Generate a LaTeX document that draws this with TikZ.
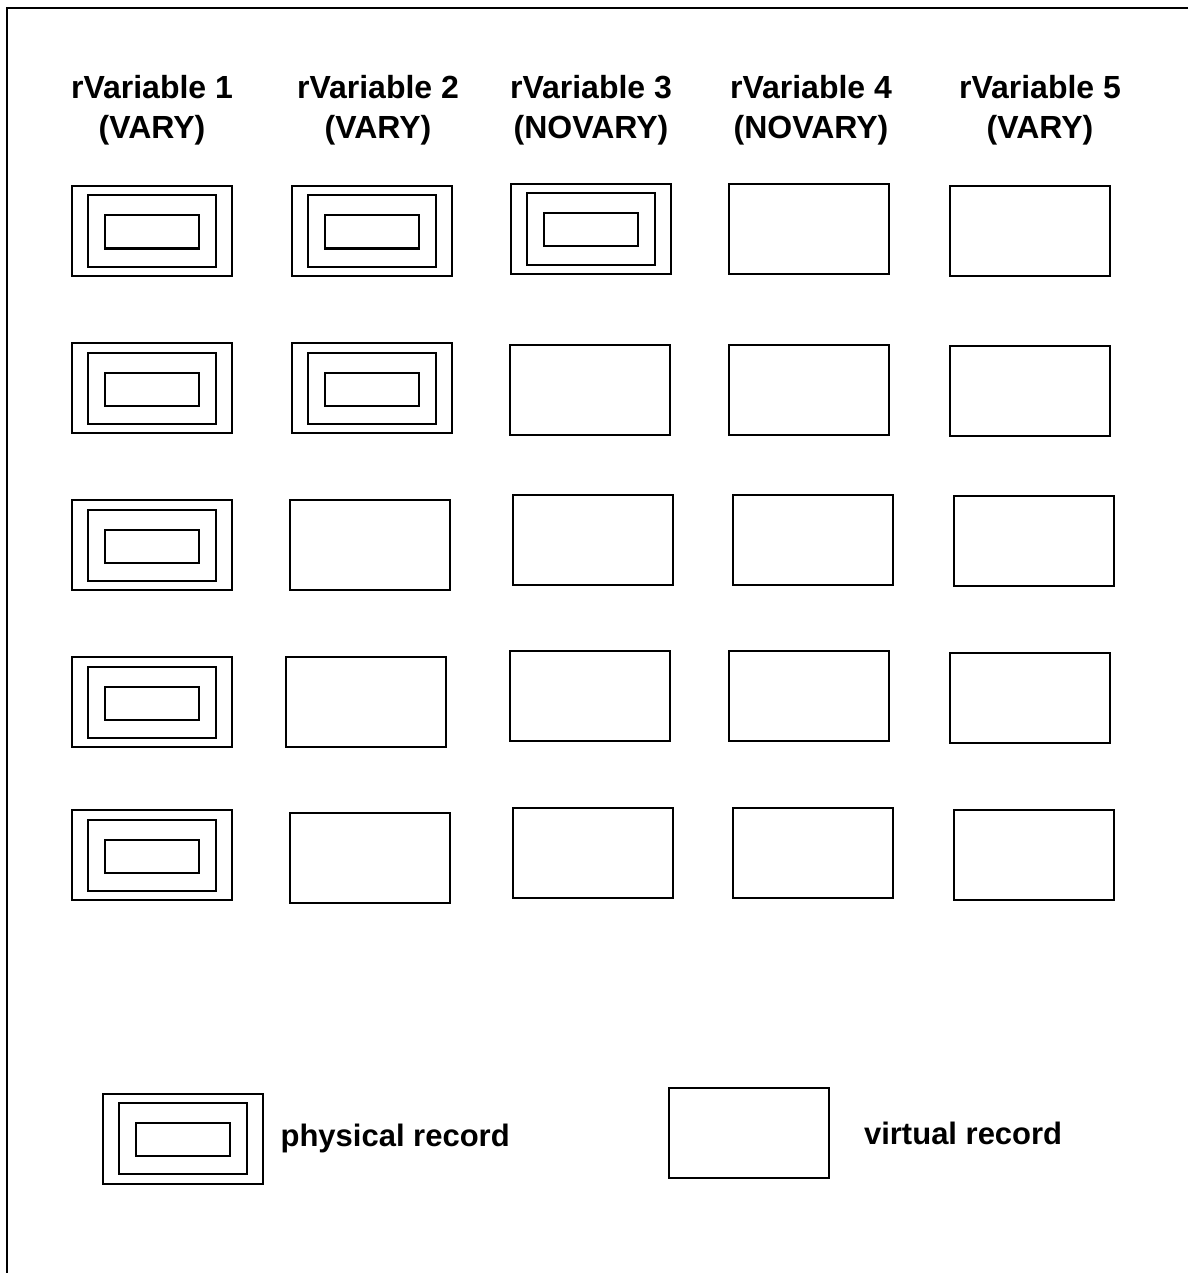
\documentclass[tikz,border=0pt]{standalone}
\usepackage{fontspec}
\setmainfont{Liberation Sans}
\usetikzlibrary{positioning}

\tikzset{
  virtrec/.style={rectangle, draw, line width=1pt, minimum width=80pt, minimum height=45pt, inner sep=0pt},
  physrec/.style={virtrec, path picture={
      \draw[line width=1pt] ([shift={(-32pt,-17.75pt)}]path picture bounding box.center) rectangle ++(64pt,35.5pt);
      \draw[line width=1pt] ([shift={(-23.5pt,-8.75pt)}]path picture bounding box.center) rectangle ++(47pt,16.5pt);
  }},
  colhead/.style={align=center, font=\bfseries\fontsize{16}{20}\selectfont},
  legtext/.style={font=\bfseries\fontsize{15.5}{18}\selectfont}
}

\begin{document}
\begin{tikzpicture}[x=0.5pt, y=-0.5pt]
\path[use as bounding box] (0,0) rectangle (1188,1273);
\draw[line width=1pt] (1188,8) -- (7,8) -- (7,1273);
% column heads
\node[colhead] (H1) at (152,110) {rVariable 1\\(VARY)};
\node[colhead] (H2) at (378,110) {rVariable 2\\(VARY)};
\node[colhead] (H3) at (591,110) {rVariable 3\\(NOVARY)};
\node[colhead] (H4) at (811,110) {rVariable 4\\(NOVARY)};
\node[colhead] (H5) at (1040,110) {rVariable 5\\(VARY)};
% row 1
\node[physrec] (R11) at (152,231) {};
\node[physrec] (R12) at (372,231) {};
\node[physrec] (R13) at (591,229) {};
\node[virtrec] (R14) at (808.5,229) {};
\node[virtrec] (R15) at (1030,231) {};
% row 2
\node[physrec] (R21) at (152,388) {};
\node[physrec] (R22) at (372,388) {};
\node[virtrec] (R23) at (589.5,389.5) {};
\node[virtrec] (R24) at (809,389.5) {};
\node[virtrec] (R25) at (1030,391) {};
% row 3
\node[physrec] (R31) at (152,545) {};
\node[virtrec] (R32) at (370,545) {};
\node[virtrec] (R33) at (592.5,539.5) {};
\node[virtrec] (R34) at (812.5,540) {};
\node[virtrec] (R35) at (1033.5,541) {};
% row 4
\node[physrec] (R41) at (152,702) {};
\node[virtrec] (R42) at (366,702) {};
\node[virtrec] (R43) at (589.5,696) {};
\node[virtrec] (R44) at (809,696) {};
\node[virtrec] (R45) at (1030,698) {};
% row 5
\node[physrec] (R51) at (152,855) {};
\node[virtrec] (R52) at (370,858) {};
\node[virtrec] (R53) at (592.5,853) {};
\node[virtrec] (R54) at (812.5,853) {};
\node[virtrec] (R55) at (1033.5,855) {};
% legend
\node[physrec] (legphys) at (182.5,1138.5) {};
\node[legtext, right=5pt of legphys] (legphystext) {physical record};
\node[virtrec] (legvirt) at (749,1133) {};
\node[legtext, right=13.5pt of legvirt] (legvirttext) {virtual record};
\end{tikzpicture}
\end{document}
